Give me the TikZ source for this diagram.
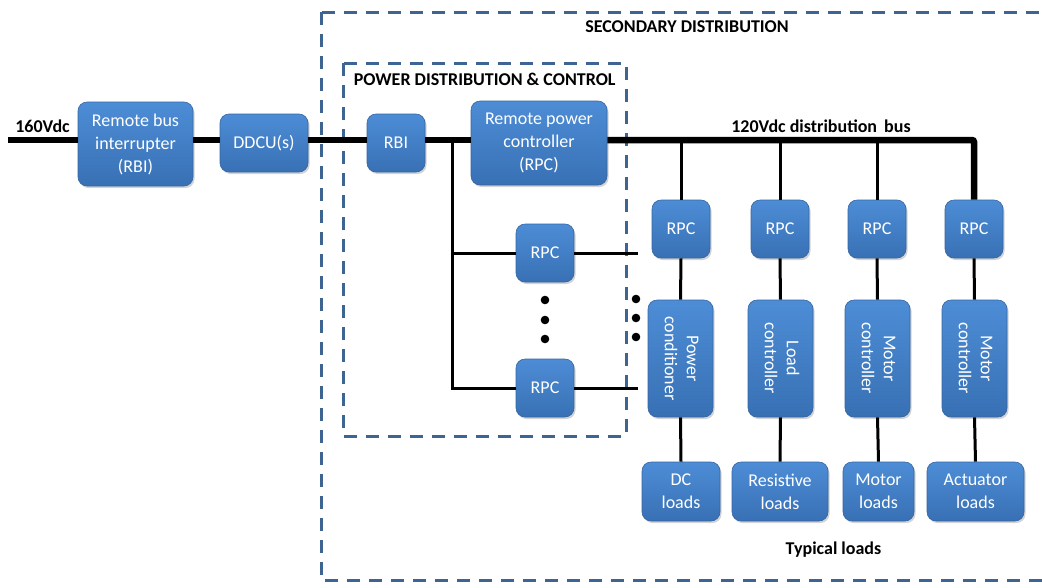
\documentclass[tikz,border=0pt]{standalone}
\usepackage{fontspec}
\setmainfont{Carlito}
\usetikzlibrary{shadows}
\definecolor{boxtop}{HTML}{4D8DD6}
\definecolor{boxbot}{HTML}{3870B4}
\definecolor{boxline}{HTML}{3566A3}
\definecolor{dashcol}{HTML}{3E6591}
\tikzset{
  blk/.style={rectangle, rounded corners=9pt, top color=boxtop, bottom color=boxbot,
    draw=boxline, line width=0.6pt, text=white, align=center, inner sep=2pt,
    font=\fontsize{18}{23}\selectfont,
    drop shadow={shadow xshift=1.5pt, shadow yshift=-2pt, opacity=0.35}},
  rpcbox/.style={blk, minimum width=58pt, minimum height=58pt},
  ctlbox/.style={blk, minimum width=65pt, minimum height=117pt},
  loadbox/.style={blk, minimum height=59pt},
  bus/.style={line width=6.5pt},
  wire/.style={line width=3pt},
  region/.style={draw=dashcol, line width=3pt, dash pattern=on 13pt off 9pt},
  lbl/.style={font=\bfseries\fontsize{18}{22}\selectfont, inner sep=0pt},
}
\begin{document}
\begin{tikzpicture}[x=1pt,y=-1pt]
\useasboundingbox (0,0) rectangle (1042,587);
\clip (0,0) rectangle (1042,587);
% regions
\draw[region] (321,12) rectangle (1080,580);
\draw[region] (343,63) rectangle (626,436);
\node[lbl] (sd) at (687,27) {SECONDARY DISTRIBUTION};
\node[lbl] (pdc) at (484.7,79) {POWER DISTRIBUTION \& CONTROL};
\node[lbl] (v160) at (42.5,126) {160Vdc};
\node[lbl] (v120) at (821,126) {120Vdc distribution\, bus};
\node[lbl] (typ) at (833.5,550) {Typical loads};
% boxes
\node[blk, minimum width=115pt, minimum height=84pt] (rbi1) at (135.5,144) {Remote bus\\interrupter\\(RBI)};
\node[blk, minimum width=88pt, minimum height=58pt] (ddcu) at (264,143) {DDCU(s)};
\node[rpcbox] (rbi2) at (396,143) {RBI};
\node[blk, minimum width=136pt, minimum height=84pt] (rpcm) at (539,143) {Remote power\\controller\\(RPC)};
\node[rpcbox] (rpca) at (545,253) {RPC};
\node[rpcbox] (rpcb) at (545,388) {RPC};
\node[rpcbox] (r1) at (681,229) {RPC};
\node[rpcbox] (r2) at (780,229) {RPC};
\node[rpcbox] (r3) at (877,229) {RPC};
\node[rpcbox] (r4) at (974,229) {RPC};
\node[ctlbox] (c1) at (680.5,358.5) {\rotatebox{-90}{\begin{tabular}{@{}c@{}}Power\\[-1pt]conditioner\end{tabular}}};
\node[ctlbox] (c2) at (780.5,358.5) {\rotatebox{-90}{\begin{tabular}{@{}c@{}}Load\\[-1pt]controller\end{tabular}}};
\node[ctlbox] (c3) at (877.5,358.5) {\rotatebox{-90}{\begin{tabular}{@{}c@{}}Motor\\[-1pt]controller\end{tabular}}};
\node[ctlbox] (c4) at (974.5,358.5) {\rotatebox{-90}{\begin{tabular}{@{}c@{}}Motor\\[-1pt]controller\end{tabular}}};
\node[loadbox, minimum width=78pt] (l1) at (681,491.5) {DC\\loads};
\node[loadbox, minimum width=96pt] (l2) at (780,491.5) {Resistive\\loads};
\node[loadbox, minimum width=71pt] (l3) at (878.5,491.5) {Motor\\loads};
\node[loadbox, minimum width=97pt] (l4) at (975.5,491.5) {Actuator\\loads};
% coordinates
\coordinate (s) at (8,140);
\coordinate (j) at (452,140);
\coordinate (jb) at (452,388);
\coordinate (b1) at (681,140);
\coordinate (b2) at (780,140);
\coordinate (b3) at (877,140);
\coordinate (ea) at (638,253);
\coordinate (eb) at (638,388);
% connectors
\draw[bus] (s) -- (s -| rbi1.west);
\draw[bus] (rbi1.east |- s) -- (ddcu.west |- s);
\draw[bus] (ddcu.east |- s) -- (rbi2.west |- s);
\draw[bus] (rbi2.east |- s) -- (rpcm.west |- s);
\draw[bus, rounded corners=2pt] (rpcm.east |- s) -- (r4.north |- s) -- (r4.north);
\draw[wire] (j) -- (jb) -- (rpcb.west);
\draw[wire] (j |- rpca) -- (rpca.west);
\draw[wire] (rpca.east) -- (ea);
\draw[wire] (rpcb.east) -- (eb);
\draw[wire] (b1) -- (r1.north);
\draw[wire] (b2) -- (r2.north);
\draw[wire] (b3) -- (r3.north);
\foreach \i in {1,2,3,4}{
  \draw[wire] (r\i.south) -- (c\i.north);
  \draw[wire] (c\i.south) -- (l\i.north);
}
% dots
\foreach \y in {300,320,339} \fill (545,\y) circle (4.3pt);
\foreach \y in {299,318,337} \fill (636,\y) circle (4.3pt);
\end{tikzpicture}
\end{document}
